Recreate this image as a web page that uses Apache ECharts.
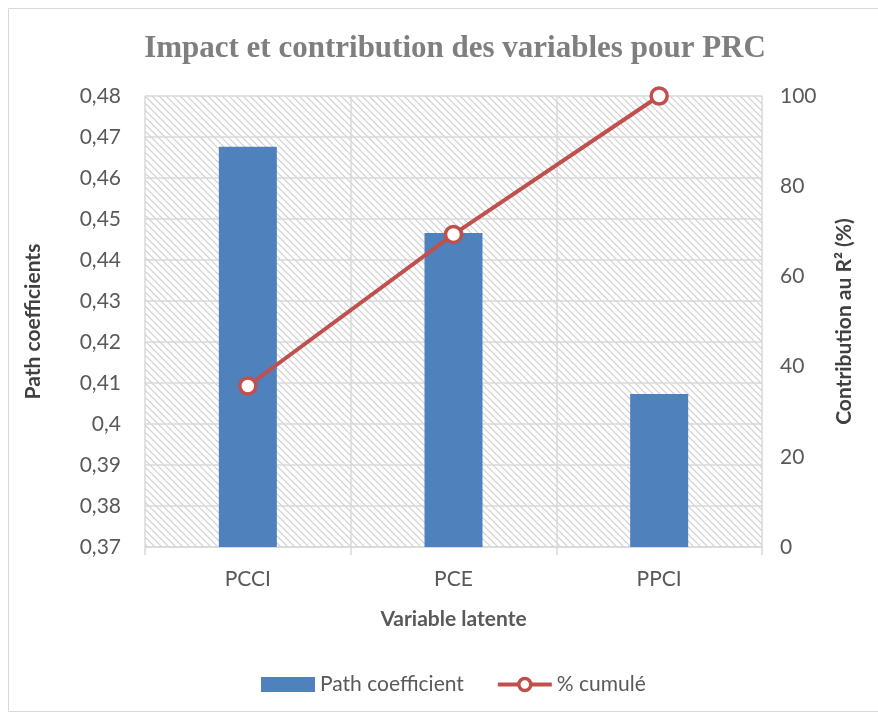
<!DOCTYPE html>
<html>
<head>
<meta charset="utf-8">
<script src="https://cdn.jsdelivr.net/npm/echarts@6/dist/echarts.min.js"></script>
<style>
  html, body { margin: 0; padding: 0; background: #ffffff; }
  #chart { width: 878px; height: 719px; }
</style>
</head>
<body>
<div id="chart"></div>
<script>
// Latent variables and their path coefficients
const categories = ['PCCI', 'PCE', 'PPCI'];
const pathCoefficient = [0.4676, 0.4466, 0.4073];
// Cumulated contribution to R² (%)
const cumulated = [35.7, 69.3, 100];

// Light diagonal hatching used as the plot-area background
function hatchPattern() {
  const s = 7;
  const c = document.createElement('canvas');
  c.width = s; c.height = s;
  const g = c.getContext('2d');
  g.fillStyle = '#ffffff';
  g.fillRect(0, 0, s, s);
  g.strokeStyle = '#cfcfcf';
  g.lineWidth = 1.2;
  [-s, 0, s].forEach(function (o) {
    g.beginPath();
    g.moveTo(o - 1, -1);
    g.lineTo(o + s + 1, s + 1);
    g.stroke();
  });
  return c;
}

const font = 'Lato, "Open Sans", sans-serif';
const chart = echarts.init(document.getElementById('chart'), null, { renderer: 'canvas' });

function fmtComma(v) {
  return String(Math.round(v * 100) / 100).replace('.', ',');
}

chart.setOption({
  backgroundColor: '#ffffff',
  animation: false,
  graphic: [{
    type: 'rect',
    shape: { x: 8.5, y: 8.5, width: 900, height: 703 },
    style: { fill: 'none', stroke: '#d9d9d9', lineWidth: 1 },
    silent: true
  }],
  title: {
    text: 'Impact et contribution des variables pour PRC',
    left: 450, top: 28, textAlign: 'center',
    textStyle: { fontFamily: '"Liberation Serif", serif', fontWeight: 'bold', fontSize: 31, color: '#7f7f7f' }
  },
  legend: {
    bottom: 19, left: 256,
    itemWidth: 54, itemHeight: 15, itemGap: 32,
    textStyle: { fontFamily: font, fontSize: 21, color: '#595959' },
    data: [
      { name: 'Path coefficient', icon: 'rect' },
      {
        name: '% cumulé',
        lineStyle: { color: '#c0504d', width: 4 },
        itemStyle: { color: '#ffffff', borderColor: '#c0504d', borderWidth: 3.5 }
      }
    ]
  },
  grid: {
    left: 145, right: 116, top: 96, bottom: 172,
    show: true,
    backgroundColor: { image: hatchPattern(), repeat: 'repeat' },
    borderWidth: 0
  },
  xAxis: {
    type: 'category',
    data: categories,
    boundaryGap: true,
    name: 'Variable latente',
    nameLocation: 'middle', nameGap: 62,
    nameTextStyle: { fontFamily: font, fontWeight: 'bold', fontSize: 21, color: '#595959' },
    axisLine: { lineStyle: { color: '#d9d9d9', width: 1.5 } },
    axisTick: { show: true, length: 8, lineStyle: { color: '#d9d9d9', width: 1.5 } },
    axisLabel: { fontFamily: font, fontSize: 21, color: '#595959', margin: 22 },
    splitLine: { show: true, lineStyle: { color: '#d9d9d9', width: 1.5 } }
  },
  yAxis: [{
    type: 'value',
    min: 0.37, max: 0.48, interval: 0.01,
    name: 'Path coefficients',
    nameLocation: 'middle', nameGap: 101,
    nameTextStyle: { fontFamily: font, fontWeight: 'bold', fontSize: 21, color: '#404040' },
    axisLine: { show: false },
    axisTick: { show: false },
    axisLabel: { fontFamily: font, fontSize: 21, color: '#595959', margin: 24, formatter: fmtComma },
    splitLine: { show: true, lineStyle: { color: '#d9d9d9', width: 1.5 } }
  }, {
    type: 'value',
    min: 0, max: 100, interval: 20,
    name: 'Contribution au R² (%)',
    nameLocation: 'middle', nameGap: 72, nameRotate: 90,
    nameTextStyle: { fontFamily: font, fontWeight: 'bold', fontSize: 21, color: '#404040' },
    axisLine: { show: false },
    axisTick: { show: false },
    axisLabel: { fontFamily: font, fontSize: 21, color: '#595959', margin: 18 },
    splitLine: { show: false }
  }],
  series: [{
    name: 'Path coefficient',
    type: 'bar',
    yAxisIndex: 0,
    data: pathCoefficient,
    barWidth: 58,
    itemStyle: { color: '#4f81bd' },
    z: 2
  }, {
    name: '% cumulé',
    type: 'line',
    yAxisIndex: 1,
    data: cumulated,
    symbol: 'circle', symbolSize: 16,
    lineStyle: { color: '#c0504d', width: 4 },
    itemStyle: { color: '#ffffff', borderColor: '#c0504d', borderWidth: 3.5 },
    z: 3
  }]
});
</script>
</body>
</html>
